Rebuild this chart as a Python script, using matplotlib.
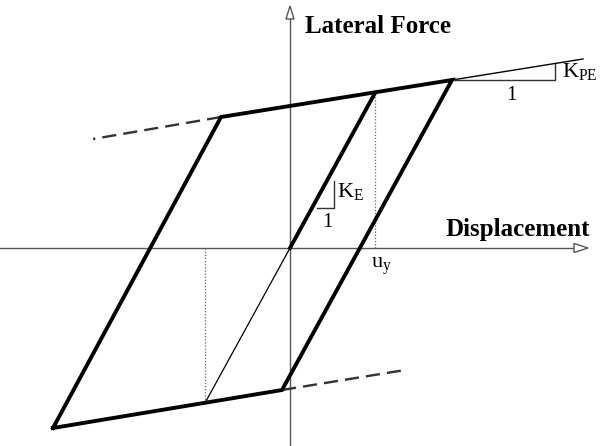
import matplotlib
matplotlib.use("Agg")
import matplotlib.pyplot as plt
from matplotlib.patches import Polygon

plt.rcParams['font.family'] = ['Liberation Serif', 'DejaVu Serif']
plt.rcParams['mathtext.fontset'] = 'custom'
plt.rcParams['mathtext.rm'] = 'Liberation Serif'
plt.rcParams['mathtext.it'] = 'Liberation Serif'

# Hysteresis loop corners (displacement, force)
loop_x = [-237, -69, 162, -8, -237]
loop_y = [-180, 131, 168, -142, -180]

# elastic branch through origin
elastic_x = [0, 85]
elastic_y = [0, 155]
elastic_thin_x = [0, -85]
elastic_thin_y = [0, -155]

# post-elastic extension beyond loop
ext_x = [162, 293]
ext_y = [168, 189]

# dashed continuations
dash_up_x = [-69, -197]
dash_up_y = [131, 109]
dash_lo_x = [-8, 115]
dash_lo_y = [-142, -122]

# dotted guides (u_y)
dot1_x = [85, 85]
dot1_y = [0, 155]
dot2_x = [-85, -85]
dot2_y = [0, -155]

# slope triangles
kpe_tri_x = [162, 265, 265]
kpe_tri_y = [168, 168, 184]
ke_tri_x = [27, 44, 44]
ke_tri_y = [40, 40, 67]

labels = {"y": "Lateral Force", "x": "Displacement", "uy": r"u$_{\mathrm{y}}$",
          "ke": r"K$_{\mathrm{E}}$", "kpe": r"K$_{\mathrm{PE}}$", "one": "1"}

fig = plt.figure(figsize=(6.11, 4.46), dpi=100)
ax = fig.add_axes([0, 0, 1, 1])
ax.set_xlim(-290, 321)
ax.set_ylim(-198, 248)
ax.axis('off')

axis_col = '#555555'
# axes
ax.plot([-290, 285], [0, 0], color=axis_col, lw=1.0, zorder=1)
ax.plot([0, 0], [-198, 229], color=axis_col, lw=1.0, zorder=1)
ax.add_patch(Polygon([[298, 0], [284, 4.5], [284, -4.5]], closed=True,
                     facecolor='white', edgecolor=axis_col, lw=1.0, zorder=2))
ax.add_patch(Polygon([[0, 242], [-4, 229], [4, 229]], closed=True,
                     facecolor='white', edgecolor=axis_col, lw=1.0, zorder=2))

# loop
ax.plot(loop_x, loop_y, color='black', lw=2.8, solid_joinstyle='miter', zorder=4)
ax.plot(elastic_x, elastic_y, color='black', lw=2.8, zorder=4)
ax.plot(elastic_thin_x, elastic_thin_y, color='black', lw=0.9, zorder=3)
ax.plot(ext_x, ext_y, color='black', lw=1.0, zorder=3)

ax.plot(dash_up_x, dash_up_y, color='#333333', lw=1.7, dashes=(6, 3), zorder=3)
ax.plot(dash_lo_x, dash_lo_y, color='#333333', lw=1.7, dashes=(6, 3), zorder=3)

ax.plot(dot1_x, dot1_y, color='#666666', lw=0.9, ls=(0, (1, 1.5)), zorder=2)
ax.plot(dot2_x, dot2_y, color='#666666', lw=0.9, ls=(0, (1, 1.5)), zorder=2)

ax.plot(kpe_tri_x, kpe_tri_y, color='#333333', lw=1.0, zorder=3)
ax.plot(ke_tri_x, ke_tri_y, color='#333333', lw=1.0, zorder=3)

# texts
ax.text(15, 215, labels["y"], fontsize=18, fontweight='bold', ha='left', va='baseline')
ax.text(300, 12, labels["x"], fontsize=18, fontweight='bold', ha='right', va='baseline')
ax.text(81, -20, labels["uy"], fontsize=16, ha='left', va='baseline')
ax.text(47, 51, labels["ke"], fontsize=16, ha='left', va='baseline')
ax.text(37, 21, labels["one"], fontsize=15, ha='center', va='baseline')
ax.text(272, 171, labels["kpe"], fontsize=16, ha='left', va='baseline')
ax.text(221, 148, labels["one"], fontsize=15, ha='center', va='baseline')

fig.savefig('out.png', dpi=100, facecolor='white')
